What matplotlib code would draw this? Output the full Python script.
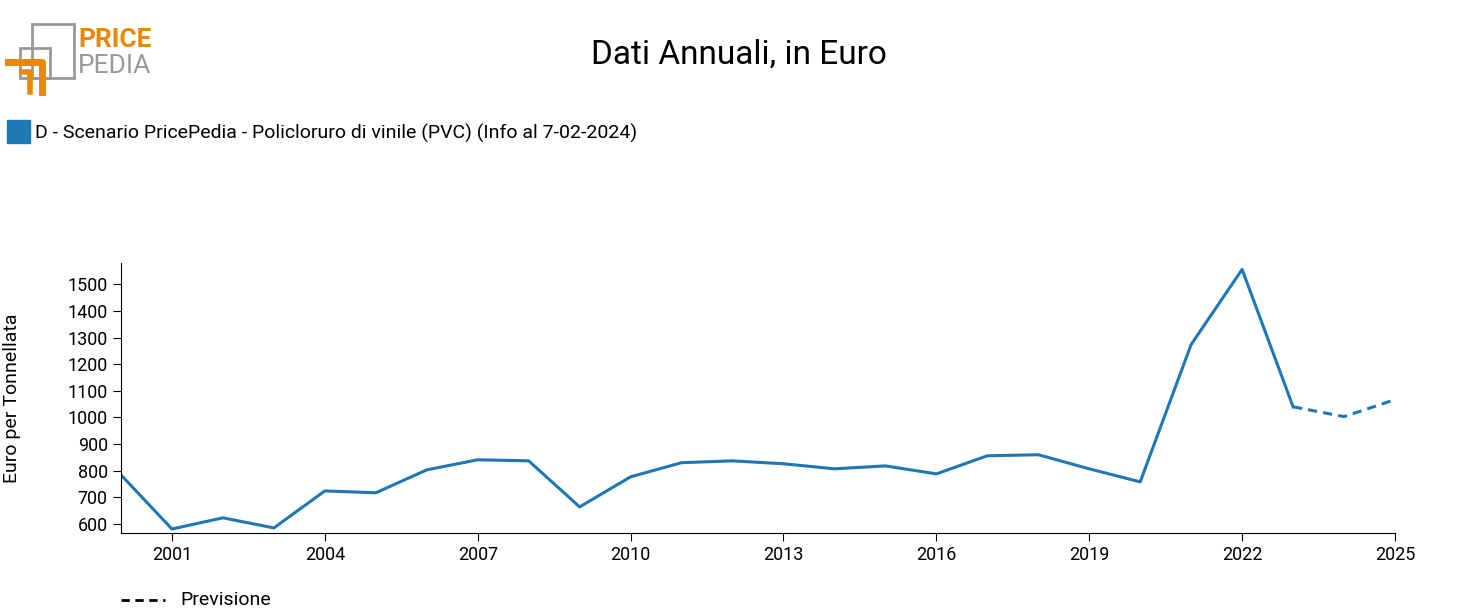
import matplotlib.pyplot as plt
from matplotlib.lines import Line2D
from matplotlib.patches import Rectangle

plt.rcParams['font.family'] = 'Roboto'

years = list(range(2000, 2026))
prices = [784, 581, 623, 585, 724, 717, 803, 841, 837, 664, 777, 830, 837, 826,
          807, 818, 788, 856, 860, 807, 758, 1274, 1556, 1040, 1003, 1067]
last_actual = 2023
color = '#1f77b4'

fig = plt.figure(figsize=(14.77, 6.15), dpi=100)
ax = fig.add_axes([121/1477, 1-533/615, (1395-121)/1477, (533-263)/615])

n = years.index(last_actual) + 1
ax.plot(years[:n], prices[:n], color=color, lw=2.2)
ax.plot(years[n-1:], prices[n-1:], color=color, lw=2.2, ls=(0, (3, 2)))

ax.set_xlim(2000, 2025)
ax.set_ylim(566, 1580)
ax.set_xticks(range(2001, 2026, 3))
ax.set_yticks(range(600, 1501, 100))
ax.tick_params(labelsize=13, length=6)
for s in ['top', 'right']:
    ax.spines[s].set_visible(False)
ax.set_ylabel('Euro per Tonnellata', fontsize=14)
ax.yaxis.set_label_coords(-100/1274, 0.5)

fig.text(0.5, 1-55/615, 'Dati Annuali, in Euro', ha='center', va='center', fontsize=24)

# legend for series
fig.patches.append(Rectangle((7/1477, 1-143/615), 23/1477, 23/615, transform=fig.transFigure,
                             color=color, figure=fig))
fig.text(35/1477, 1-133/615, 'D - Scenario PricePedia - Policloruro di vinile (PVC) (Info al 7-02-2024)',
         va='center', fontsize=14)

# forecast legend
fig.lines.append(Line2D([121/1477, 165/1477], [1-600/615]*2, transform=fig.transFigure,
                        color='black', lw=2, ls=(0, (3, 2)), figure=fig))
fig.text(180/1477, 1-600/615, 'Previsione', va='center', fontsize=14)

# logo
fig.patches.append(Rectangle((32/1477, 1-78/615), 42/1477, 54/615, transform=fig.transFigure,
                             fill=False, ec='#999999', lw=2, figure=fig))
fig.patches.append(Rectangle((20/1477, 1-78/615), 30/1477, 30/615, transform=fig.transFigure,
                             fill=False, ec='#999999', lw=2, figure=fig))
fig.lines.append(Line2D([8/1477, 42/1477, 42/1477], [1-62/615, 1-62/615, 1-92/615],
                        transform=fig.transFigure, color='#e8890c', lw=5, figure=fig))
fig.lines.append(Line2D([22/1477, 30/1477, 30/1477], [1-72/615, 1-72/615, 1-92/615],
                        transform=fig.transFigure, color='#e8890c', lw=4, figure=fig))
fig.text(78/1477, 1-40/615, 'PRICE', fontsize=19, fontweight='bold', color='#e8890c', va='center')
fig.text(78/1477, 1-66/615, 'PEDIA', fontsize=19, color='#999999', va='center')

fig.savefig('out.png', dpi=100)
